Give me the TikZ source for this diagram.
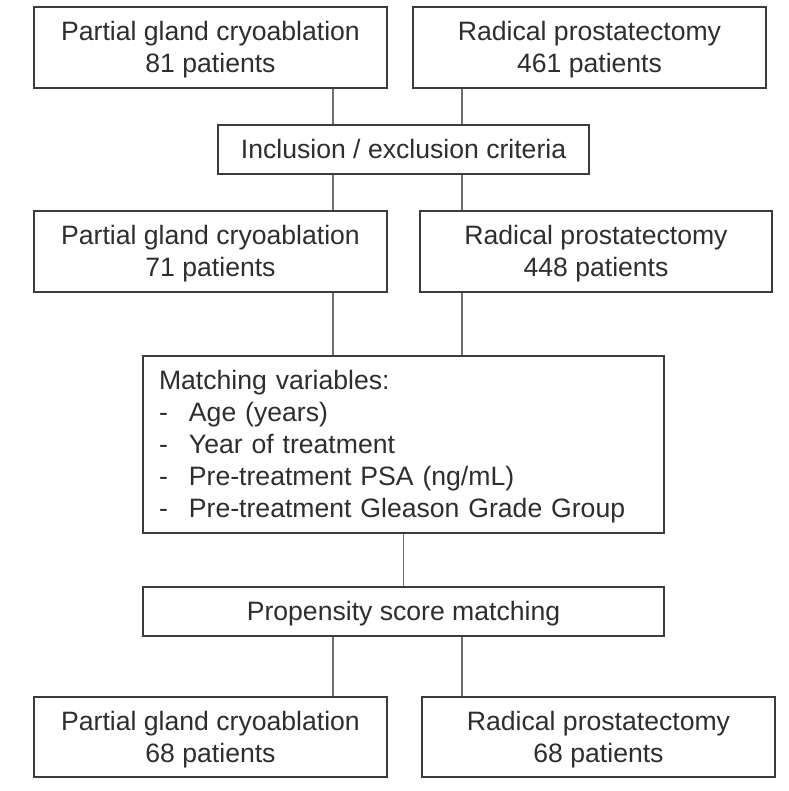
\documentclass[tikz,border=0pt]{standalone}
\usepackage{fontspec}
\setmainfont{Liberation Sans}
\definecolor{txt}{HTML}{2E2E2E}
\definecolor{frame}{HTML}{3C3C3C}
\definecolor{link}{HTML}{6E6E6E}
\newcommand\lnstrut{\rule[-6.5pt]{0pt}{31pt}}
\begin{document}
\begin{tikzpicture}[x=1pt,y=-1pt,
  box/.style={draw=frame, line width=1.8pt, fill=white, text=txt, inner sep=0pt,
    align=center, font=\fontsize{26.6pt}{32pt}\selectfont},
  twoline/.style={box, minimum width=353pt, minimum height=81pt},
  oneline/.style={box, minimum height=49pt},
  conn/.style={draw=link, line width=1.3pt}]
\useasboundingbox[fill=white] (0,0) rectangle (788,791);
\coordinate (colL) at (333,0);
\coordinate (colR) at (462,0);
% boxes
\node[twoline] (b1) at (210.5,47.5) {\lnstrut Partial gland cryoablation\\\lnstrut 81 patients};
\node[twoline] (b2) at (589.5,47.5) {\lnstrut Radical prostatectomy\\\lnstrut 461 patients};
\node[oneline, minimum width=371pt] (incl) at (403.5,149.5) {\lnstrut Inclusion / exclusion criteria};
\node[twoline] (b3) at (210.5,251.5) {\lnstrut Partial gland cryoablation\\\lnstrut 71 patients};
\node[twoline, minimum width=352pt] (b4) at (596,251.5) {\lnstrut Radical prostatectomy\\\lnstrut 448 patients};
\node[box, minimum width=521pt, minimum height=177pt, align=left, text width=489pt] (match) at (403.5,444.5)
  {\lnstrut Matching variables:\\
   \lnstrut\makebox[30pt][l]{-}Age (years)\\
   \lnstrut\makebox[30pt][l]{-}Year of treatment\\
   \lnstrut\makebox[30pt][l]{-}Pre-treatment PSA (ng/mL)\\
   \lnstrut\makebox[30pt][l]{-}Pre-treatment Gleason Grade Group};
\node[oneline, minimum width=521pt] (prop) at (403.5,611.5) {\lnstrut Propensity score matching};
\node[twoline, minimum height=80pt] (b5) at (210.5,737) {\lnstrut Partial gland cryoablation\\\lnstrut 68 patients};
\node[twoline, minimum height=80pt] (b6) at (598.5,737) {\lnstrut Radical prostatectomy\\\lnstrut 68 patients};
% connectors
\draw[conn] (b1.south -| colL) -- (incl.north -| colL);
\draw[conn] (b2.south -| colR) -- (incl.north -| colR);
\draw[conn] (incl.south -| colL) -- (b3.north -| colL);
\draw[conn] (incl.south -| colR) -- (b4.north -| colR);
\draw[conn] (b3.south -| colL) -- (match.north -| colL);
\draw[conn] (b4.south -| colR) -- (match.north -| colR);
\draw[conn] (match.south) -- (prop.north);
\draw[conn] (prop.south -| colL) -- (b5.north -| colL);
\draw[conn] (prop.south -| colR) -- (b6.north -| colR);
\end{tikzpicture}
\end{document}
